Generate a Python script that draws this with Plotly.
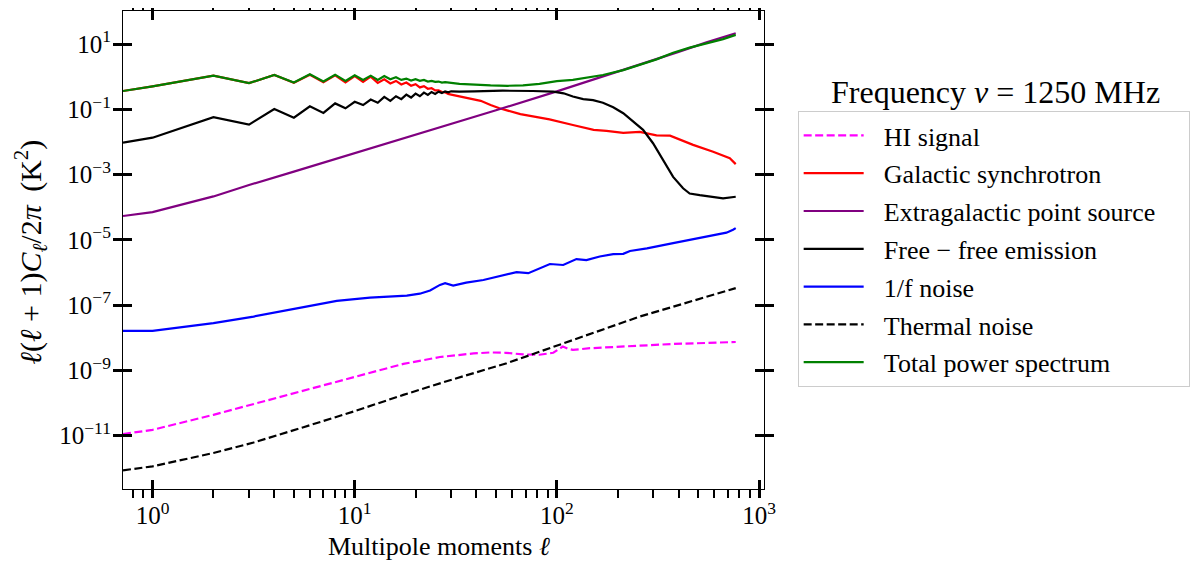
import numpy as np
import plotly.graph_objects as go

# ---------------- data (log10 of l(l+1)C_l/2pi in K^2) ----------------
ell_osc = [0.714] + list(range(1, 31))

sync_ell = ell_osc + [39, 42, 47, 52, 66, 92, 120, 152, 176, 213, 257, 311, 363, 472, 593, 717, 767]
sync_log = [-0.44, -0.30, 0.03, -0.20, 0.05, -0.19, 0.06, -0.17, 0.04, -0.18, 0.02, -0.16, 0.00, -0.19,
            -0.08, -0.21, -0.13, -0.24, -0.18, -0.28, -0.23, -0.33, -0.29, -0.37, -0.35, -0.42, -0.42,
            -0.47, -0.48, -0.53, -0.55,
            -0.69, -0.74, -0.87, -0.97, -1.15, -1.31, -1.48, -1.63, -1.66, -1.72, -1.69, -1.80, -1.81,
            -2.09, -2.30, -2.50, -2.68]

ff_ell = ell_osc + [33, 39, 54, 76, 96, 108, 120, 135, 151, 169, 190, 213, 238, 267, 299, 336, 376,
                    421, 454, 509, 593, 664, 767]
ff_log = [-2.02, -1.87, -1.24, -1.47, -0.99, -1.26, -0.91, -1.11, -0.82, -0.97, -0.77, -0.87, -0.70,
          -0.80, -0.62, -0.74, -0.60, -0.69, -0.55, -0.64, -0.52, -0.60, -0.49, -0.56, -0.47, -0.53,
          -0.46, -0.50, -0.45, -0.48, -0.45,
          -0.46, -0.45, -0.43, -0.44, -0.46, -0.51, -0.61, -0.69, -0.72, -0.80, -0.94, -1.12, -1.38,
          -1.63, -2.04, -2.55, -3.07, -3.42, -3.58, -3.63, -3.68, -3.73, -3.68]

tot_ell = ell_osc + [33, 39, 47, 57, 68, 82, 100, 120, 146, 169, 213, 257, 311, 376, 454, 550, 664, 767]
tot_log = [-0.44, -0.30, 0.03, -0.20, 0.05, -0.18, 0.07, -0.15, 0.06, -0.13, 0.04, -0.10, 0.03, -0.10,
           0.02, -0.08, -0.02, -0.10, -0.06, -0.12, -0.08, -0.13, -0.10, -0.15, -0.13, -0.16, -0.15,
           -0.18, -0.17, -0.19, -0.19,
           -0.22, -0.25, -0.27, -0.28, -0.27, -0.22, -0.14, -0.10, -0.02, 0.05, 0.20, 0.36, 0.53,
           0.73, 0.89, 1.02, 1.15, 1.28]

ps_ell = [0.714, 1, 2, 3, 5, 10, 20, 30, 50, 100, 200, 300, 400, 550, 767]
ps_log = [-4.27, -4.15, -3.67, -3.32, -2.91, -2.35, -1.78, -1.45, -1.03, -0.45, 0.15, 0.50, 0.76, 1.05, 1.33]

nf_ell = [0.714, 1, 2, 3.16, 5.58, 8.15, 11.9, 18.1, 21, 23.6, 26.4, 28, 30.7, 35.6, 43.3, 52.5, 63.2,
          72.2, 82, 92.4, 107.5, 125, 140, 163, 190, 213, 230, 279, 376, 472, 550, 690, 744, 767]
nf_log = [-7.79, -7.79, -7.55, -7.35, -7.06, -6.87, -6.77, -6.71, -6.65, -6.55, -6.38, -6.33, -6.40,
          -6.31, -6.23, -6.10, -5.99, -6.02, -5.87, -5.74, -5.77, -5.59, -5.62, -5.51, -5.44, -5.43,
          -5.34, -5.26, -5.10, -4.98, -4.90, -4.78, -4.69, -4.64]

hi_ell = [0.714, 1, 2, 3.16, 5.58, 9.86, 17.4, 26.4, 30, 38.7, 46.8, 56, 68, 82, 96, 101, 107, 113,
          120, 146, 213, 376, 767]
hi_log = [-10.95, -10.82, -10.36, -10.03, -9.62, -9.19, -8.80, -8.59, -8.55, -8.48, -8.45, -8.46,
          -8.51, -8.52, -8.46, -8.36, -8.27, -8.33, -8.37, -8.32, -8.27, -8.19, -8.13]

th_ell = [0.714, 1, 2, 3.16, 5.58, 9.86, 17.4, 29.6, 56.5, 120, 257, 767]
th_log = [-12.06, -11.94, -11.53, -11.21, -10.74, -10.26, -9.75, -9.30, -8.78, -8.06, -7.35, -6.48]

x_major = [1, 10, 100, 1000]
x_major_text = ["10<sup>0</sup>", "10<sup>1</sup>", "10<sup>2</sup>", "10<sup>3</sup>"]
x_minor = [m * d for d in (0.1, 1, 10, 100) for m in range(2, 10)]
y_major = [1e-11, 1e-9, 1e-7, 1e-5, 1e-3, 1e-1, 1e1]
y_major_text = ["10<sup>−11</sup>", "10<sup>−9</sup>", "10<sup>−7</sup>", "10<sup>−5</sup>",
                "10<sup>−3</sup>", "10<sup>−1</sup>", "10<sup>1</sup>"]

x_range = [np.log10(0.714), np.log10(1058.5)]
y_range = [-12.633, 2.011]

PAD = "\u2002\u200a"  # gap between legend sample and label
series = [
    ("HI signal", hi_ell, hi_log, "#ff00ff", "8px,3.5px"),
    ("Galactic synchrotron", sync_ell, sync_log, "#ff0000", "solid"),
    ("Extragalactic point source", ps_ell, ps_log, "#800080", "solid"),
    ("Free − free emission", ff_ell, ff_log, "#000000", "solid"),
    ("1/f noise", nf_ell, nf_log, "#0000ff", "solid"),
    ("Thermal noise", th_ell, th_log, "#000000", "8px,3.5px"),
    ("Total power spectrum", tot_ell, tot_log, "#008000", "solid"),
]

FONT = "Liberation Serif"
fig = go.Figure()
for i, (name, ex, ly, col, dash) in enumerate(series):
    label = PAD + name + ("\u2003\u200a" if name.startswith("Extragalactic") else "")
    fig.add_trace(go.Scatter(
        x=ex, y=10 ** np.array(ly), mode="lines", name=label, legendgroup=f"g{i}",
        line=dict(color=col, width=2.2, dash=dash)))

# invisible helpers so that the overlay tick axes get drawn
for xa in ("x2", "x3", "x4"):
    fig.add_trace(go.Scatter(x=[1], y=[1e-30], xaxis=xa, yaxis="y", mode="markers",
                             showlegend=False, hoverinfo="skip", marker=dict(opacity=0)))
for ya in ("y2", "y3"):
    fig.add_trace(go.Scatter(x=[1e-5], y=[1], xaxis="x", yaxis=ya, mode="markers",
                             showlegend=False, hoverinfo="skip", marker=dict(opacity=0)))

axcommon = dict(type="log", showgrid=False, zeroline=False, showline=True, linecolor="black",
                linewidth=1.2, mirror="ticks", tickcolor="black")

# the page body has an 8px margin, so the figure is 8px smaller and shifted
W, H = 1192, 556
L, T = 114.7, 3
PW, PH = 641.6, 478


def x_over(vals, direction, length, width):
    return dict(**axcommon, range=x_range, overlaying="x", anchor="y", side="bottom",
                tickmode="array", tickvals=vals, showticklabels=False,
                ticks=direction, ticklen=length, tickwidth=width)


def y_over(vals, direction, length, width):
    return dict(**axcommon, range=y_range, overlaying="y", anchor="x", side="left",
                tickmode="array", tickvals=vals, showticklabels=False,
                ticks=direction, ticklen=length, tickwidth=width)


fig.update_layout(
    width=W, height=H,
    margin=dict(l=L, r=W - L - PW, t=T, b=H - T - PH, autoexpand=False),
    paper_bgcolor="white", plot_bgcolor="white",
    font=dict(family=FONT, size=24, color="black"),
    xaxis=dict(**axcommon, range=x_range, tickmode="array", tickvals=x_major, ticktext=x_major_text,
               ticks="outside", ticklen=4, tickwidth=2.5, tickfont=dict(size=25)),
    xaxis2=x_over(x_major, "inside", 9, 2.5),
    xaxis3=x_over(x_minor, "outside", 8, 2),
    xaxis4=x_over(x_major, "outside", 8, 2.5),
    yaxis=dict(**axcommon, range=y_range, tickmode="array", tickvals=y_major, ticktext=y_major_text,
               ticks="outside", ticklen=6, tickwidth=2.5, tickfont=dict(size=25)),
    yaxis2=y_over(y_major, "inside", 9, 2.5),
    yaxis3=y_over(y_major, "outside", 9, 2.5),
    legend=dict(x=(798 - 122.7) / PW, y=(489 - 111) / PH, xanchor="left", yanchor="top",
                bgcolor="white", bordercolor="#cccccc", borderwidth=1,
                font=dict(family=FONT, size=26), itemwidth=60, tracegroupgap=1),
    showlegend=True,
)

fig.add_annotation(text="Frequency <i>ν</i> = 1250 MHz", xref="paper", yref="paper",
                   x=(996 - 122.7) / PW, y=(489 - 92) / PH, xanchor="center", yanchor="middle",
                   showarrow=False, font=dict(family=FONT, size=32))
fig.add_annotation(text="Multipole moments <i>ℓ</i>", xref="paper", yref="paper",
                   x=(439 - 122.7) / PW, y=(489 - 546) / PH, xanchor="center", yanchor="middle",
                   showarrow=False, font=dict(family=FONT, size=26))
fig.add_annotation(
    text="<i>ℓ</i>(<i>ℓ</i> + 1)<i>C</i><sub><i>ℓ</i></sub>/2<i>π</i>\u2009 (K<sup>2</sup>)",
    xref="paper", yref="paper", textangle=-90,
    x=(31 - 122.7) / PW, y=(489 - 252) / PH, xanchor="center", yanchor="middle",
    showarrow=False, font=dict(family=FONT, size=30))

fig.write_html("out.html")
